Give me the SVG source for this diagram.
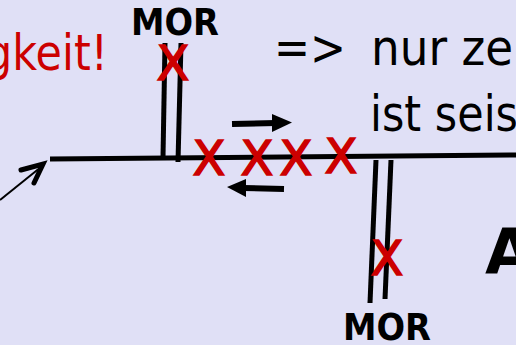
<svg xmlns="http://www.w3.org/2000/svg" width="516" height="345" viewBox="0 0 516 345">
<style>
.ln{stroke:#000;stroke-width:5;fill:none}
.t{font-family:"DejaVu Sans","Liberation Sans",sans-serif;font-size:50px;fill:#000}
.red{fill:#CC0000}
.b{font-family:"DejaVu Sans","Liberation Sans",sans-serif;font-weight:bold;fill:#000}
.x{font-family:"DejaVu Sans","Liberation Sans",sans-serif;font-size:48px;fill:#CC0000;stroke:#CC0000;stroke-width:1.5;text-anchor:middle}
</style>
<rect width="516" height="345" fill="#E0E0F6"/>
<g id="connectors">
<line class="ln" x1="50" y1="159" x2="516" y2="155"/>
<line class="ln" x1="165" y1="43" x2="163" y2="157"/>
<line class="ln" x1="181" y1="43" x2="178" y2="162"/>
<line class="ln" x1="376" y1="160" x2="370" y2="303"/>
<line class="ln" x1="391" y1="160" x2="385" y2="299"/>
<line x1="232" y1="124" x2="276" y2="123" stroke="#000" stroke-width="6"/>
<polygon points="272,114 292,122.5 272,132" fill="#000"/>
<line x1="243" y1="188" x2="284" y2="189" stroke="#000" stroke-width="6"/>
<polygon points="246,179 227,187 246,197" fill="#000"/>
<line x1="0" y1="200" x2="41" y2="167" stroke="#000" stroke-width="2"/>
<polyline points="21,170 43,164 34,183" fill="none" stroke="#000" stroke-width="5" stroke-linecap="round" stroke-linejoin="miter"/>
</g>
<g id="text-top-left"><text class="t red" x="-15" y="70" textLength="123" lengthAdjust="spacingAndGlyphs">gkeit!</text></g>
<g id="text-right">
<text class="t" x="274" y="65" textLength="72" lengthAdjust="spacingAndGlyphs">=&gt;</text>
<text class="t" x="371" y="65" textLength="142" lengthAdjust="spacingAndGlyphs">nur ze</text>
<text class="t" x="370" y="131" textLength="148" lengthAdjust="spacingAndGlyphs">ist seis</text>
</g>
<g id="label-A"><text class="b" x="485" y="273" font-size="63">A</text></g>
<g id="mor-top"><text class="b" x="131" y="35" font-size="38" textLength="88" lengthAdjust="spacingAndGlyphs">MOR</text></g>
<g id="mor-bottom"><text class="b" x="343" y="340" font-size="38" textLength="88" lengthAdjust="spacingAndGlyphs">MOR</text></g>
<g id="crosses">
<text class="x" x="173" y="80" font-size="50">X</text>
<text class="x" x="209" y="175">X</text>
<text class="x" x="257" y="175">X</text>
<text class="x" x="296" y="175">X</text>
<text class="x" x="341" y="173">X</text>
<text class="x" x="387" y="275">X</text>
</g>
</svg>
